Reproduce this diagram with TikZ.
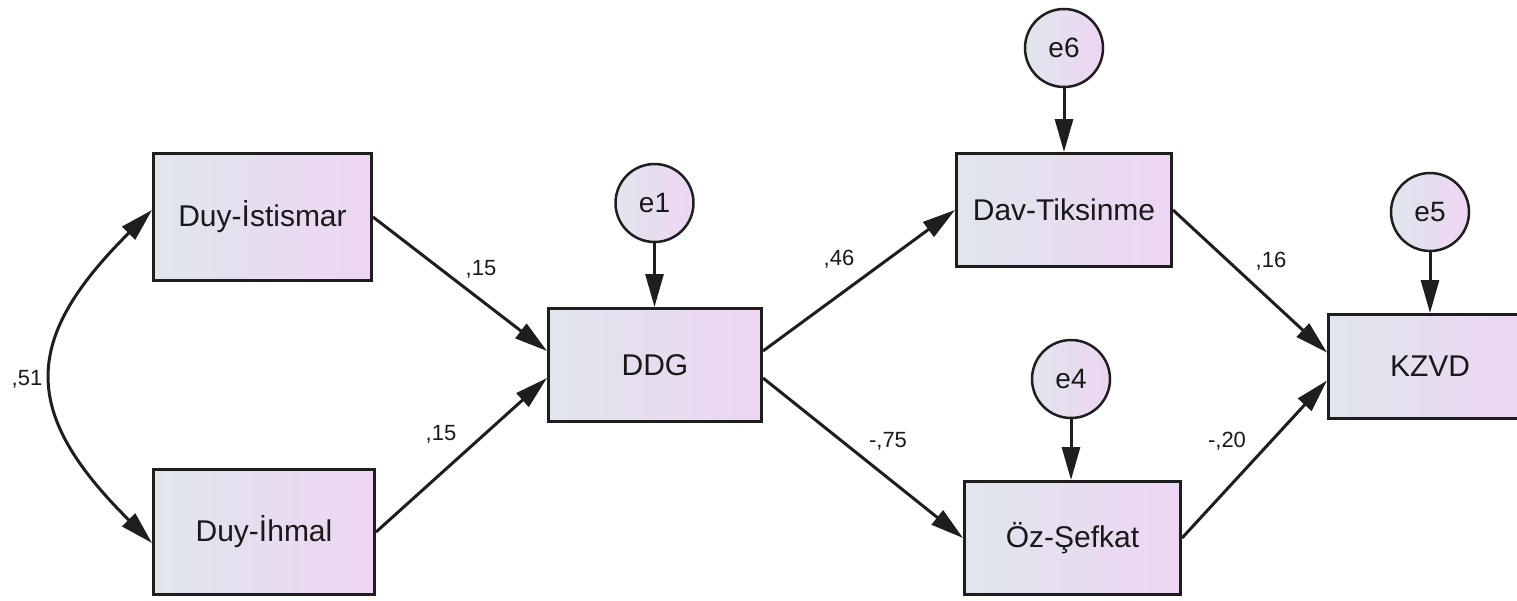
\documentclass[tikz,border=0pt]{standalone}
\usepackage{fontspec}
\setmainfont{Liberation Sans}
\usetikzlibrary{arrows.meta}
\definecolor{gA}{RGB}{224,230,236}
\definecolor{gB}{RGB}{237,213,243}
\definecolor{edge}{RGB}{30,30,30}
\begin{document}
\begin{tikzpicture}[x=1pt,y=-1pt,
  box/.style={draw=edge, line width=3pt, left color=gA, right color=gB, inner sep=0pt,
    font=\fontsize{30}{34}\selectfont, text=black!90},
  err/.style={circle, draw=edge, line width=2.5pt, left color=gA, right color=gB, inner sep=0pt,
    minimum size=78pt, font=\fontsize{28}{32}\selectfont, text=black!90},
  arr/.style={draw=edge, line width=3pt, -{Triangle[length=33pt,width=18pt]}},
  biarr/.style={draw=edge, line width=3pt, {Triangle[length=33pt,width=18pt]}-{Triangle[length=33pt,width=18pt]}},
  lbl/.style={font=\fontsize{22}{26}\selectfont, text=black!90, inner sep=0pt}]
\useasboundingbox (0,0) rectangle (1517,600);
\clip (0,0) rectangle (1517,600);

% boxes
\node[box, minimum width=218pt, minimum height=127pt] (isti) at (262.5,217) {Duy-İstismar};
\node[box, minimum width=221pt, minimum height=125pt] (ihmal) at (264,532) {Duy-İhmal};
\node[box, minimum width=213pt, minimum height=113pt] (ddg) at (655,365) {DDG};
\node[box, minimum width=215pt, minimum height=113pt] (dav) at (1064,210) {Dav-Tiksinme};
\node[box, minimum width=216pt, minimum height=113pt] (oz) at (1072.5,538) {Öz-Şefkat};
\node[box, minimum width=203pt, minimum height=104pt] (kzvd) at (1430,366.5) {KZVD};

% error terms
\node[err] (e1) at (654.5,203) {e1};
\node[err] (e6) at (1064,48) {e6};
\node[err] (e5) at (1430,212) {e5};
\node[err] (e4) at (1071,379) {e4};

% error arrows
\draw[arr] (e1.south) -- (e1.south |- ddg.north);
\draw[arr] (e6.south) -- (e6.south |- dav.north);
\draw[arr] (e5.south) -- (e5.south |- kzvd.north);
\draw[arr] (e4.south) -- (e4.south |- oz.north);

% paths
\draw[arr] (isti.east) -- ([yshift=14pt]ddg.west);
\draw[arr] (ihmal.east) -- ([yshift=-13pt]ddg.west);
\draw[arr] ([yshift=14pt]ddg.east) -- (dav.west);
\draw[arr] ([yshift=-13pt]ddg.east) -- (oz.west);
\draw[arr] (dav.east) -- ([yshift=14pt]kzvd.west);
\draw[arr] (oz.east) -- ([yshift=-14pt]kzvd.west);

% covariance
\draw[biarr] ([yshift=7pt]isti.west) .. controls (21,340) and (21,413) .. ([yshift=-11pt]ihmal.west);

% labels
\node[lbl] (l1) at (481,269) {,15};
\node[lbl] (l2) at (441,434) {,15};
\node[lbl] (l3) at (839,259) {,46};
\node[lbl] (l4) at (888,441) {-,75};
\node[lbl] (l5) at (1271,261) {,16};
\node[lbl] (l6) at (1227,441) {-,20};
\node[lbl] (l7) at (27,379) {,51};
\end{tikzpicture}
\end{document}
